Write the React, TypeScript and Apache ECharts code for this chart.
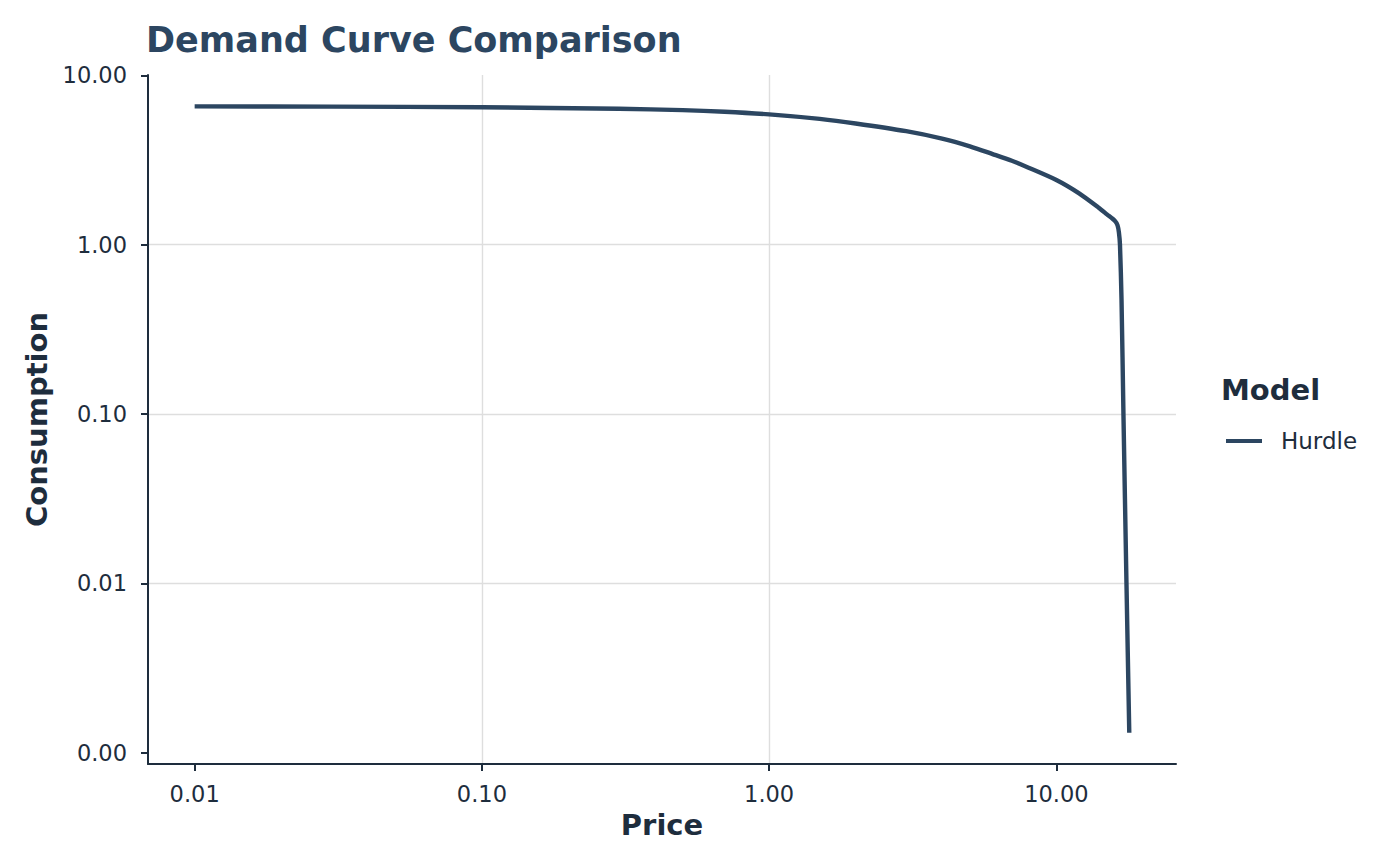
import React, { useEffect, useRef } from 'react';
import * as echarts from 'echarts';

const chartTitle = 'Demand Curve Comparison';
const legendTitle = 'Model';
const modelName = 'Hurdle';
const xAxisName = 'Price';
const yAxisName = 'Consumption';

const prices = [
  0.01, 0.03, 0.1, 0.3, 0.5, 0.7, 1, 1.5, 2, 3, 4, 5, 6, 7, 8, 10, 12, 14, 15, 16,
  16.33, 16.51, 16.65, 16.86, 17.12, 17.54, 17.94,
];
const consumption = [
  6.56, 6.54, 6.48, 6.35, 6.23, 6.1, 5.88, 5.53, 5.2, 4.68, 4.23, 3.81, 3.43, 3.13, 2.85, 2.41,
  2.01, 1.66, 1.51, 1.38, 1.3, 1.18, 1.0, 0.469, 0.1, 0.01, 0.00131,
];

const xTickValues = [0.01, 0.1, 1, 10];
const yTickValues = [0.001, 0.01, 0.1, 1, 10];

const DARK = '#1e2d3d';
const LINE = '#2c4661';
const GRID = '#dedede';
const FONT = 'DejaVu Sans';

export default function App() {
  const ref = useRef<HTMLDivElement>(null);
  useEffect(() => {
    document.body.style.margin = '0';
    const chart = echarts.init(ref.current as HTMLDivElement, null, { renderer: 'svg' });
    const isPow10 = (v: number) => Math.abs(Math.log10(v) - Math.round(Math.log10(v))) < 1e-6;
    const fmt = (v: number) => (isPow10(v) ? Number(v).toFixed(2) : '');
    const axisCommon = {
      type: 'log',
      logBase: 10,
      nameLocation: 'middle',
      nameTextStyle: { fontSize: 29, fontWeight: 'bold', color: DARK, fontFamily: FONT },
      axisLine: { show: true, onZero: false, lineStyle: { color: DARK, width: 2 } },
      splitLine: {
        show: true,
        showMinLine: false,
        showMaxLine: false,
        lineStyle: { color: GRID, width: 1.4 },
      },
      minorTick: { show: false },
      minorSplitLine: { show: false },
    };
    chart.setOption({
      animation: false,
      backgroundColor: '#ffffff',
      textStyle: { fontFamily: FONT },
      title: [
        {
          text: chartTitle,
          left: 146,
          top: 22,
          padding: 0,
          textStyle: { fontSize: 35, fontWeight: 'bold', color: LINE, fontFamily: FONT },
        },
        {
          text: legendTitle,
          left: 1221,
          top: 375,
          padding: 0,
          textStyle: { fontSize: 29, fontWeight: 'bold', color: DARK, fontFamily: FONT },
        },
      ],
      legend: {
        left: 1226,
        top: 429.5,
        padding: 0,
        icon: 'rect',
        itemWidth: 36,
        itemHeight: 4,
        data: [modelName],
        textStyle: { fontSize: 23, color: DARK, fontFamily: FONT, padding: [0, 0, 0, 14] },
      },
      grid: { left: 148, right: 224, top: 75, bottom: 102, containLabel: false },
      xAxis: {
        ...axisCommon,
        min: 0.00688,
        max: 26.09,
        name: xAxisName,
        nameGap: 46,
        axisTick: {
          show: true,
          length: 7,
          customValues: xTickValues,
          lineStyle: { color: DARK, width: 2 },
        },
        axisLabel: {
          customValues: xTickValues,
          formatter: fmt,
          fontSize: 22.5,
          color: DARK,
          margin: 18,
          fontFamily: FONT,
        },
      },
      yAxis: {
        ...axisCommon,
        min: 0.000857,
        max: 10.05,
        name: yAxisName,
        nameGap: 96,
        nameRotate: 90,
        axisTick: {
          show: true,
          length: 7,
          customValues: yTickValues,
          lineStyle: { color: DARK, width: 2 },
        },
        axisLabel: {
          customValues: yTickValues,
          formatter: fmt,
          fontSize: 22.5,
          color: DARK,
          margin: 21,
          fontFamily: FONT,
        },
      },
      series: [
        {
          name: modelName,
          type: 'line',
          data: prices.map((p, i) => [p, consumption[i]]),
          showSymbol: false,
          symbol: 'none',
          smooth: 0.25,
          lineStyle: { color: LINE, width: 4.4 },
          itemStyle: { color: LINE },
        },
      ],
    });
    return () => chart.dispose();
  }, []);
  return (
    <div
      ref={ref}
      style={{ position: 'fixed', left: 0, top: 0, width: 1400, height: 866, background: '#fff' }}
    />
  );
}
